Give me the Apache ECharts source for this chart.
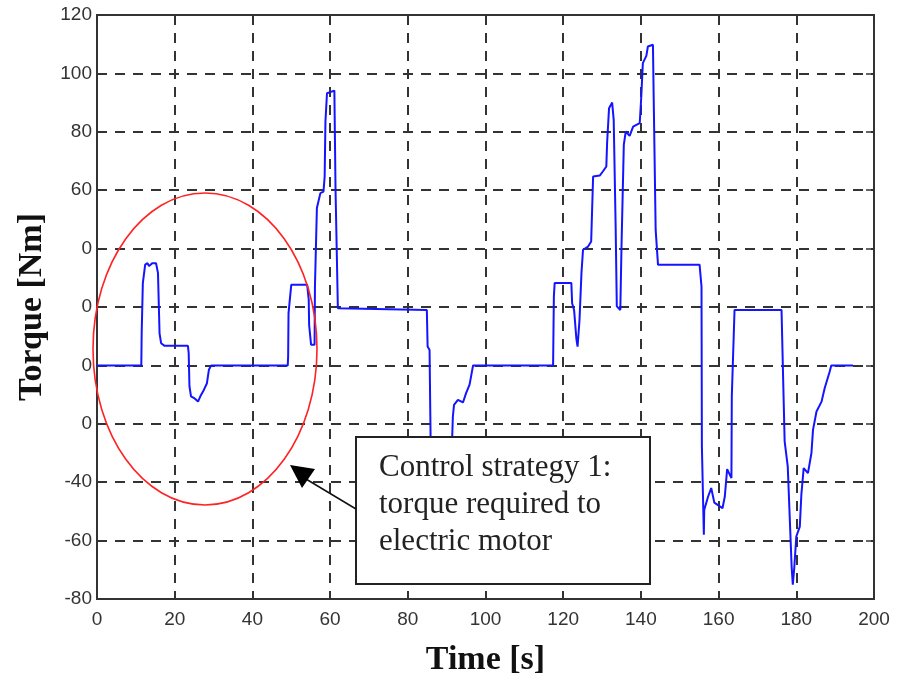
<!DOCTYPE html>
<html>
<head>
<meta charset="utf-8">
<script src="https://cdn.jsdelivr.net/npm/echarts@6/dist/echarts.min.js"></script>
<style>
  html, body { margin: 0; padding: 0; background: #fff; }
  #chart { width: 907px; height: 677px; }
</style>
</head>
<body>
<div id="chart"></div>
<script>
// time [s] and torque [Nm]
const timeS = [
  0, 11.4, 11.5, 11.8, 12.4, 13.0, 13.4, 14.2, 15.2, 15.7, 15.9, 16.1, 16.5, 17.4,
  23.4, 23.6, 23.8, 24.2, 25.0, 26.0, 26.6, 27.5, 28.3, 28.8, 29.4,
  49.1, 49.2, 49.3, 50.0, 54.1, 54.5, 54.6, 55.1, 56.0, 56.1, 56.4, 56.6, 57.0,
  57.5, 58.3, 58.6, 58.8, 59.2, 61.1, 61.4, 62.0, 62.2,
  84.9, 85.1, 85.6, 86.0, 88.0, 91.0, 91.6, 91.9, 92.9, 94.2, 95.0, 95.9, 96.8,
  117.4, 117.5, 117.6, 117.8, 122.1, 122.3, 122.8, 123.4, 123.7, 124.2, 124.7,
  125.1, 126.4, 127.2, 127.7, 129.4, 130.2, 131.1, 131.3, 131.8, 132.6, 133.0,
  133.5, 133.8, 134.7, 135.0, 135.6, 136.1, 137.1, 138.0, 139.7, 140.1, 140.5,
  141.4, 141.8, 143.1, 143.3, 143.8, 144.4,
  155.1, 155.6, 155.7, 156.2, 156.3, 157.3, 158.1, 158.9, 161.0, 161.6, 162.2,
  163.3, 163.4, 164.1,
  176.2, 176.6, 177.0, 177.8, 178.3, 178.8, 179.1, 179.5, 180.0, 180.9, 181.3,
  181.9, 183.0, 183.9, 184.3, 185.2, 186.5, 187.3, 188.6, 189.0, 194.6
]
const torqueNm = [
  0, 0, 11, 28.2, 34.5, 35, 34, 35, 35, 31.6, 21.3, 11, 7.6, 6.7,
  6.7, 4.2, -7.2, -10.6, -11.2, -12.4, -10.6, -8.4, -6.1, -1.5, 0,
  0, 3, 17.9, 27.6, 27.6, 22.5, 13.9, 7.1, 7.1, 27, 27, 53.9, 54.4,
  59, 59.5, 64.7, 83.5, 93.2, 94.1, 60.1, 19.6, 19,
  19, 6.5, 5.3, -40, -45, -42, -17.5, -13.5, -11.8, -12.7, -9.5, -6.6, 0,
  0, 12.2, 23.6, 28.2, 28.2, 21.3, 19, 9, 6.4, 15.6, 31.6,
  39.6, 40.7, 42.4, 64.7, 65, 66.4, 68.1, 76.1, 88.1, 90, 84.1,
  47.6, 20.2, 19, 40.2, 75.5, 80.1, 78.6, 81.8, 83, 92.1, 103.5,
  106, 109.2, 109.8, 91, 46.4, 34.5,
  34.5, 27, -27.8, -58, -49.5, -44.9, -42, -47, -48.9, -44.9, -35.5,
  -38.6, -10.6, 19,
  19, -3.8, -26, -34.6, -51.7, -68.9, -75.1, -68.9, -58.6, -55.2, -44.3,
  -35.2, -36.9, -30, -22.1, -15.8, -12.4, -7.8, -2.1, 0, 0
]

// tick labels as printed in the figure
const yTickValues = [-80, -60, -40, -20, 0, 20, 40, 60, 80, 100, 120]
const yTickLabels = ['-80', '-60', '-40', '0', '0', '0', '0', '60', '80', '100', '120']
const xTickLabels = ['0', '20', '40', '60', '80', '100', '120', '140', '160', '180', '200']

const noteLines = ['Control strategy 1:', 'torque required to', 'electric motor']

const gridColor = '#333'
const dash = [10, 8]

const chart = echarts.init(document.getElementById('chart'))

const labelStyle = {
  color: '#333',
  fontFamily: 'Liberation Sans',
  fontSize: 19
}

const frameAxis = {
  type: 'value',
  interval: 20,
  axisLine: { show: true, onZero: false, lineStyle: { color: gridColor, width: 2 } },
  axisTick: { show: true, inside: true, length: 8, lineStyle: { color: gridColor, width: 1.5 } },
  axisLabel: { show: false },
  splitLine: { show: false }
}

const option = {
  animation: false,
  grid: {
    left: 97,
    right: 33,
    top: 15,
    bottom: 78,
    containLabel: false,
    outerBoundsMode: 'none',
    show: true,
    borderColor: gridColor,
    borderWidth: 2,
    backgroundColor: '#fff'
  },
  xAxis: [
    {
      type: 'value',
      min: 0,
      max: 200,
      interval: 20,
      name: 'Time [s]',
      nameLocation: 'middle',
      nameGap: 44,
      nameTextStyle: {
        fontFamily: 'Liberation Serif',
        fontWeight: 'bold',
        fontSize: 34,
        color: '#111'
      },
      axisLine: { show: true, onZero: false, lineStyle: { color: gridColor, width: 2 } },
      axisTick: { show: true, inside: true, length: 8, lineStyle: { color: gridColor, width: 1.5 } },
      axisLabel: {
        ...labelStyle,
        margin: 11,
        formatter: v => xTickLabels[v / 20]
      },
      splitLine: { show: true, lineStyle: { color: gridColor, width: 2, type: dash } }
    },
    { ...frameAxis, position: 'top', min: 0, max: 200 }
  ],
  yAxis: [
    {
      type: 'value',
      min: -80,
      max: 120,
      interval: 20,
      name: 'Torque [Nm]',
      nameLocation: 'middle',
      nameGap: 42,
      nameTextStyle: {
        fontFamily: 'Liberation Serif',
        fontWeight: 'bold',
        fontSize: 34,
        color: '#111'
      },
      axisLine: { show: true, onZero: false, lineStyle: { color: gridColor, width: 2 } },
      axisTick: { show: true, inside: true, length: 8, lineStyle: { color: gridColor, width: 1.5 } },
      axisLabel: {
        ...labelStyle,
        margin: 5,
        formatter: v => yTickLabels[yTickValues.indexOf(v)]
      },
      splitLine: { show: true, lineStyle: { color: gridColor, width: 2, type: dash } }
    },
    { ...frameAxis, position: 'right', min: -80, max: 120 }
  ],
  series: [
    {
      name: 'Torque',
      type: 'line',
      xAxisIndex: 0,
      yAxisIndex: 0,
      data: timeS.map((t, i) => [t, torqueNm[i]]),
      showSymbol: false,
      lineStyle: { color: '#1414ff', width: 2 },
      z: 3
    }
  ],
  graphic: [
    // red ellipse round the first part of the cycle
    {
      type: 'ellipse',
      z: 50,
      shape: { cx: 205, cy: 349, rx: 112, ry: 156 },
      style: { fill: null, stroke: '#ff2222', lineWidth: 1.6 }
    },
    // annotation box
    {
      type: 'rect',
      z: 60,
      shape: { x: 356, y: 437, width: 294, height: 147 },
      style: { fill: '#fff', stroke: '#222', lineWidth: 2 }
    },
    ...noteLines.map((line, i) => ({
      type: 'text',
      z: 61,
      left: 379,
      top: 452 + i * 37,
      style: {
        text: line,
        fill: '#222',
        font: '31px "Liberation Serif"'
      }
    })),
    // arrow
    {
      type: 'line',
      z: 60,
      shape: { x1: 356, y1: 509, x2: 306, y2: 479 },
      style: { stroke: '#111', lineWidth: 1.5 }
    },
    {
      type: 'polygon',
      z: 60,
      shape: { points: [[290, 465], [315, 469], [302, 488]] },
      style: { fill: '#000' }
    }
  ]
}

chart.setOption(option)
</script>
</body>
</html>
